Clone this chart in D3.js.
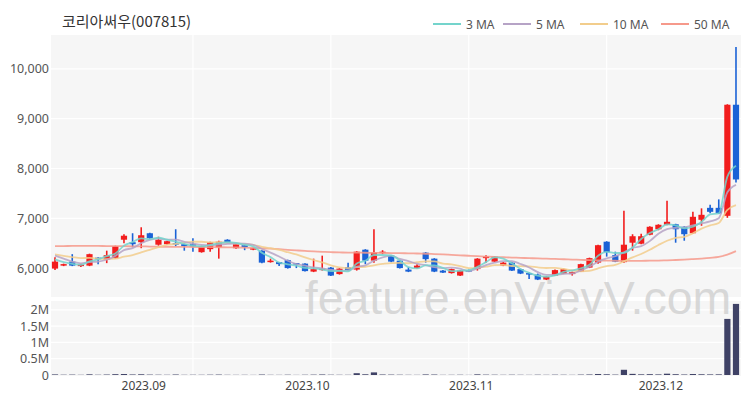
<!DOCTYPE html>
<html><head><meta charset="utf-8">
<script src="https://cdn.jsdelivr.net/npm/d3@7"></script>
<style>
body{margin:0;background:#fff;}
svg{display:block;font-family:"Noto Sans CJK KR","Noto Sans",sans-serif;}
</style>
</head><body>
<svg id="chart" width="750" height="400"></svg>
<script>
const title = "코리아써우(007815)";
const dates = ["2023-08-17","2023-08-18","2023-08-21","2023-08-22","2023-08-23","2023-08-24","2023-08-25","2023-08-28","2023-08-29","2023-08-30","2023-08-31",
"2023-09-01","2023-09-04","2023-09-05","2023-09-06","2023-09-07","2023-09-08","2023-09-11","2023-09-12","2023-09-13","2023-09-14","2023-09-15","2023-09-18","2023-09-19","2023-09-20","2023-09-21","2023-09-22","2023-09-25","2023-09-26","2023-09-27",
"2023-10-04","2023-10-05","2023-10-06","2023-10-10","2023-10-11","2023-10-12","2023-10-13","2023-10-16","2023-10-17","2023-10-18","2023-10-19","2023-10-20","2023-10-23","2023-10-24","2023-10-25","2023-10-26","2023-10-27","2023-10-30","2023-10-31",
"2023-11-01","2023-11-02","2023-11-03","2023-11-06","2023-11-07","2023-11-08","2023-11-09","2023-11-10","2023-11-13","2023-11-14","2023-11-15","2023-11-16","2023-11-17","2023-11-20","2023-11-21","2023-11-22","2023-11-23","2023-11-24","2023-11-27","2023-11-28","2023-11-29","2023-11-30",
"2023-12-01","2023-12-04","2023-12-05","2023-12-06","2023-12-07","2023-12-08","2023-12-11","2023-12-12","2023-12-13"];
const open = [5990,6050,6130,6040,6050,6210,6170,6200,6570,6520,6520,
6700,6470,6480,6500,6480,6480,6320,6380,6420,6570,6400,6460,6370,6350,6120,6120,6160,6100,6090,
5930,5960,6010,5880,6020,5970,6370,6150,6300,6250,6150,5970,6000,6310,6190,5950,5900,5850,5960,
5980,6200,6130,6050,6110,5980,5900,5870,5770,5850,5890,5880,5930,6010,6110,6530,6260,6120,6510,6490,6670,6780,
6870,6880,6830,6700,6970,7210,7210,7050,9280];
const high = [6220,6090,6280,6090,6290,6220,6350,6450,6680,6700,6820,
6710,6630,6550,6780,6490,6600,6450,6530,6550,6580,6490,6470,6410,6360,6190,6120,6170,6100,6100,
6190,6250,6020,6000,6110,6340,6380,6780,6360,6260,6160,6020,6080,6320,6200,5960,5990,5960,5970,
6200,6260,6240,6120,6120,5990,5910,5890,5840,5970,5990,5930,6090,6210,6470,6540,6330,7150,6680,6690,6840,6880,
7350,6890,6840,7130,7200,7270,7380,9290,10440];
const low = [5960,6040,6040,6020,6040,6080,6100,6190,6500,6420,6400,
6590,6450,6470,6440,6350,6330,6310,6330,6190,6500,6390,6360,6360,6100,6110,6040,5990,6000,5930,
5920,5950,5840,5870,5950,5950,6080,6110,6280,6120,5990,5920,5990,6110,5920,5900,5890,5840,5920,
5950,6110,6120,6040,5940,5880,5780,5760,5760,5840,5880,5850,5920,6000,6090,6230,6120,6110,6350,6480,6660,6760,
6860,6510,6550,6690,6850,7100,7090,7010,7720];
const close = [6130,6080,6050,6070,6280,6180,6260,6440,6650,6480,6660,
6600,6570,6540,6480,6440,6430,6440,6520,6530,6510,6480,6420,6400,6110,6150,6080,6000,6070,5940,
5980,5990,5850,5990,5960,6330,6150,6310,6330,6130,6000,5930,6050,6180,5930,5910,5980,5950,5940,
6190,6230,6230,6110,5950,5890,5880,5770,5830,5960,5980,5920,6080,6200,6460,6320,6130,6470,6640,6640,6830,6870,
6930,6780,6680,7030,7070,7130,7100,9280,7780];
const volume = [18000,9000,12000,6000,21000,8000,14000,25000,30000,16000,22000,
12000,9000,7000,15000,6000,8000,7000,10000,13000,6000,5000,6000,4000,14000,6000,5000,9000,4000,8000,
11000,16000,9000,7000,6000,55000,22000,80000,15000,12000,9000,6000,5000,17000,14000,5000,6000,8000,4000,
20000,11000,9000,6000,9000,7000,5000,9000,6000,10000,8000,5000,12000,16000,30000,22000,12000,160000,35000,20000,25000,18000,
40000,24000,15000,30000,22000,18000,20000,1720000,2180000];
// closes of the 9 sessions before the first visible one (for 3/5/10 MA start values)
const priorCloses = [6350,6300,6280,6250,6300,6380,6350,6250,6150];
// 50-day MA
const ma50 = [6440,6442,6445,6446,6446,6445,6443,6441,6440,6438,6436,
6433,6430,6428,6427,6425,6424,6423,6421,6419,6418,6415,6412,6405,6398,6390,6380,6368,6356,6345,
6335,6327,6320,6315,6312,6310,6308,6306,6304,6302,6300,6297,6293,6288,6282,6275,6266,6257,6248,
6240,6232,6225,6218,6212,6206,6200,6195,6190,6184,6178,6172,6166,6160,6155,6150,6148,6146,6146,6147,6149,6152,
6157,6163,6170,6180,6192,6206,6224,6270,6340];
const priceTicks = [6000,7000,8000,9000,10000];
const volTicks = [0,500000,1000000,1500000,2000000];
const volTickLabels = ["0","0.5M","1M","1.5M","2M"];
const monthDates = ["2023-09-01","2023-10-04","2023-11-01","2023-12-01"];
const monthLabels = ["2023.09","2023.10","2023.11","2023.12"];
const maNames = ["3 MA","5 MA","10 MA","50 MA"];
const maColors = ["#74d4cc","#b6a3c6","#f2cd8c","#f6998b"];

const svg = d3.select("#chart");
const L = 51, R = 741, pTop = 35, pBot = 297, vTop = 301, vBot = 376;

const x = d3.scaleBand().domain(dates).range([50.7, 740.3]).paddingInner(0.28).paddingOuter(0.14);
const y = d3.scaleLinear().domain([5420, 10680]).range([pBot, pTop]);
const yv = d3.scaleLinear().domain([0, 2300000]).range([375, 300]);
const cx = d => x(d) + x.bandwidth() / 2;

// panels
svg.append("rect").attr("x", L).attr("y", pTop).attr("width", R - L).attr("height", pBot - pTop).attr("fill", "#f6f6f6");
svg.append("rect").attr("x", L).attr("y", vTop).attr("width", R - L).attr("height", vBot - vTop).attr("fill", "#f6f6f6");

// grid
svg.append("g").selectAll("line").data(priceTicks).join("line")
  .attr("x1", L).attr("x2", R).attr("y1", d => y(d)).attr("y2", d => y(d))
  .attr("stroke", "#ffffff").attr("stroke-width", 1.2);
svg.append("g").selectAll("line").data(volTicks.slice(1)).join("line")
  .attr("x1", L).attr("x2", R).attr("y1", d => yv(d)).attr("y2", d => yv(d))
  .attr("stroke", "#ffffff").attr("stroke-width", 1.2);
const vIdx = d3.range(16, dates.length, 16);
svg.append("g").selectAll("line").data(vIdx).join("line")
  .attr("x1", i => cx(dates[i])).attr("x2", i => cx(dates[i]))
  .attr("y1", pTop).attr("y2", pBot).attr("stroke", "#ffffff").attr("stroke-width", 1.2);
svg.append("g").selectAll("line").data(vIdx).join("line")
  .attr("x1", i => cx(dates[i])).attr("x2", i => cx(dates[i]))
  .attr("y1", vTop).attr("y2", vBot).attr("stroke", "#ffffff").attr("stroke-width", 1.2);

// watermark
svg.append("text").attr("x", 518).attr("y", 314).attr("text-anchor", "middle")
  .attr("font-family", "'Liberation Sans', Arial, sans-serif").attr("font-size", 46.5)
  .attr("fill", "#cdcdcd").attr("fill-opacity", 0.75).text("feature.enVievV.com");

// axes labels
const yAxis = svg.append("g").attr("transform", `translate(${L},0)`)
  .call(d3.axisLeft(y).tickValues(priceTicks).tickFormat(d3.format(",")).tickSize(0).tickPadding(2));
yAxis.select(".domain").remove();
yAxis.selectAll("text").attr("font-size", 12.5).attr("fill", "#555").attr("font-family", "'Noto Sans',sans-serif");

const vAxis = svg.append("g").attr("transform", `translate(${L},0)`)
  .call(d3.axisLeft(yv).tickValues(volTicks).tickFormat((d, i) => volTickLabels[i]).tickSize(0).tickPadding(2));
vAxis.select(".domain").remove();
vAxis.selectAll("text").attr("font-size", 12.5).attr("fill", "#555").attr("font-family", "'Noto Sans',sans-serif");

svg.append("g").selectAll("text").data(monthDates).join("text")
  .attr("x", d => x(d) - 3).attr("y", 390).attr("text-anchor", "middle")
  .attr("font-size", 12).attr("fill", "#444").attr("font-family", "'Noto Sans',sans-serif")
  .text((d, i) => monthLabels[i]);

// volume bars
svg.append("g").selectAll("rect").data(dates).join("rect")
  .attr("x", d => x(d)).attr("width", x.bandwidth())
  .attr("y", (d, i) => yv(volume[i])).attr("height", (d, i) => yv(0) - yv(volume[i]))
  .attr("fill", "#3f4266");

// candles
const up = "#f21d1d", down = "#1a62d6";
const cg = svg.append("g").selectAll("g").data(dates).join("g");
cg.append("line")
  .attr("x1", d => cx(d)).attr("x2", d => cx(d))
  .attr("y1", (d, i) => y(high[i])).attr("y2", (d, i) => y(low[i]))
  .attr("stroke", (d, i) => close[i] >= open[i] ? up : down).attr("stroke-width", 1.6);
cg.append("rect")
  .attr("x", d => x(d)).attr("width", x.bandwidth())
  .attr("y", (d, i) => y(Math.max(open[i], close[i])))
  .attr("height", (d, i) => Math.max(1.5, Math.abs(y(open[i]) - y(close[i]))))
  .attr("fill", (d, i) => close[i] >= open[i] ? up : down);

// moving averages
const allCloses = priorCloses.concat(close);
const sma = p => close.map((_, i) => d3.mean(allCloses.slice(i + priorCloses.length - p + 1, i + priorCloses.length + 1)));
const maSeries = [sma(3), sma(5), sma(10), ma50];
const line = d3.line().x((d, i) => cx(dates[i])).y(d => y(d)).curve(d3.curveMonotoneX);
[3, 2, 1, 0].forEach(k => {
  svg.append("path").datum(maSeries[k]).attr("d", line)
    .attr("fill", "none").attr("stroke", maColors[k]).attr("stroke-width", 1.8).attr("stroke-opacity", 0.85);
});

// title
svg.append("text").attr("x", 62).attr("y", 27).attr("font-size", 15).attr("fill", "#333").text(title);

// legend
const legX = [433, 503, 580, 661];
const lg = svg.append("g").selectAll("g").data(maNames).join("g")
  .attr("transform", (d, i) => `translate(${legX[i]},24)`);
lg.append("line").attr("x1", 0).attr("x2", 28).attr("y1", 0).attr("y2", 0)
  .attr("stroke", (d, i) => maColors[i]).attr("stroke-width", 2);
lg.append("text").attr("x", 33).attr("y", 4.5).attr("font-size", 12).attr("fill", "#555")
  .attr("font-family", "'Noto Sans',sans-serif").text(d => d);
</script>
</body></html>
